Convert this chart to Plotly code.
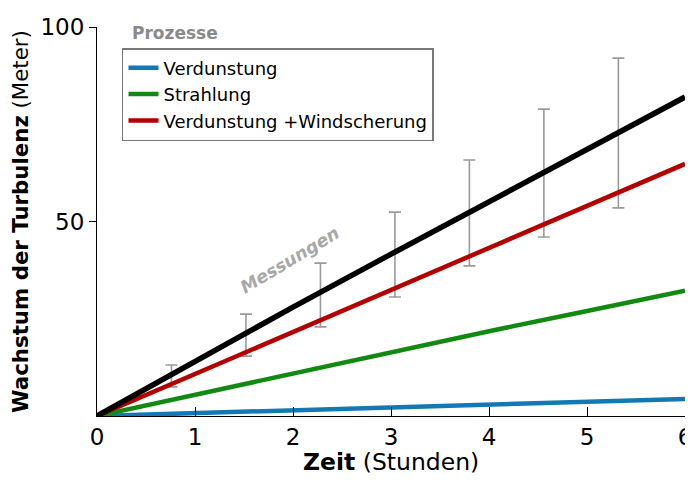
import plotly.graph_objects as go

# Time axis (hours)
hours = [0, 1, 2, 3, 4, 5, 6]

# Model curves (meters)
verdunstung = [0, 0.7, 1.5, 2.2, 2.9, 3.7, 4.4]
strahlung = [0, 5.5, 11.0, 16.4, 21.8, 27.0, 32.2]
verd_wind = [0, 10.8, 21.6, 32.4, 43.2, 54.0, 64.8]
gesamt = [0, 14.2, 28.0, 41.6, 55.0, 68.5, 82.0]

# Measurements (error ranges)
mess_t = [0.76, 1.52, 2.28, 3.04, 3.80, 4.56, 5.32]
mess_low = [7.5, 15.4, 22.9, 30.6, 38.6, 46.0, 53.5]
mess_high = [13.1, 26.2, 39.3, 52.4, 65.8, 78.9, 92.0]

series_names = ["Verdunstung", "Strahlung", "Verdunstung +Windscherung"]
colors = ["#1479b3", "#128a12", "#b30000"]

FONT = "DejaVu Sans, Liberation Sans, Arial, sans-serif"

mid = [(lo + hi) / 2 for lo, hi in zip(mess_low, mess_high)]
err = [(hi - lo) / 2 for lo, hi in zip(mess_low, mess_high)]

fig = go.Figure()
fig.add_trace(go.Scatter(
    x=mess_t, y=mid, mode="markers",
    marker=dict(size=1, color="rgba(0,0,0,0)"),
    error_y=dict(type="data", array=err, color="#9a9a9a", thickness=1.6, width=6),
    showlegend=False, hoverinfo="skip"))

for name, vals, col in zip(series_names, [verdunstung, strahlung, verd_wind], colors):
    fig.add_trace(go.Scatter(x=hours, y=vals, mode="lines", name=name,
                             line=dict(color=col, width=4.5)))

fig.add_trace(go.Scatter(x=hours, y=gesamt, mode="lines", line=dict(color="black", width=5.5),
                         showlegend=False))

# The page body adds an 8px offset, so the figure is sized to fit the window.
fig.update_layout(
    width=685, height=466,
    margin=dict(l=89, r=8, t=19, b=58),
    paper_bgcolor="white", plot_bgcolor="white",
    font=dict(family=FONT, color="black"),
    showlegend=True,
    legend=dict(x=0.0425, y=0.946, xanchor="left", yanchor="top",
                bgcolor="white", bordercolor="#777777", borderwidth=1.5,
                font=dict(size=18, family=FONT), tracegroupgap=0),
    xaxis=dict(range=[0, 6], tickvals=[0, 1, 2, 3, 4, 5, 6], ticks="inside", ticklen=9,
               tickcolor="black", showline=True, linecolor="black", linewidth=1.2,
               showgrid=False, zeroline=False, tickfont=dict(size=23), automargin=False,
               ticklabeloverflow="allow"),
    yaxis=dict(range=[0, 100], tickvals=[50, 100], ticks="outside", ticklen=7,
               tickcolor="black", showline=True, linecolor="black", linewidth=1.2,
               showgrid=False, zeroline=False, tickfont=dict(size=23), automargin=False,
               title=dict(text="<b>Wachstum der Turbulenz</b> (Meter)", font=dict(size=21.3), standoff=10)),
    annotations=[
        dict(x=0.5, y=-0.118, xref="paper", yref="paper", xanchor="center", yanchor="middle",
             text="<b>Zeit</b> (Stunden)", showarrow=False, font=dict(size=23.5, color="black")),
        dict(x=0.056, y=0.985, xref="paper", yref="paper", xanchor="left", yanchor="middle",
             text="<b>Prozesse</b>", showarrow=False, font=dict(size=17, color="#8a8a8a")),
        dict(x=1.97, y=40, xref="x", yref="y", text="<b><i>Messungen</i></b>", showarrow=False,
             textangle=-31, font=dict(size=17.5, color="#a8a8a8")),
    ],
)

fig.write_html("out.html")
